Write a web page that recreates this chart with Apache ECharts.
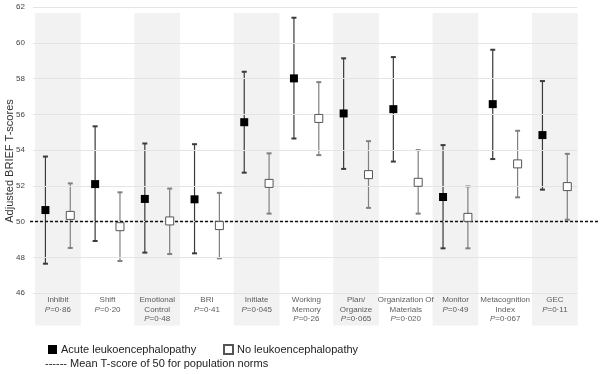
<!DOCTYPE html>
<html>
<head>
<meta charset="utf-8">
<script src="https://cdn.jsdelivr.net/npm/echarts@6/dist/echarts.min.js"></script>
<style>
  html, body { margin: 0; padding: 0; background: #fff; }
  #chart { width: 602px; height: 374px; }
</style>
</head>
<body>
<div id="chart"></div>
<script>
const categories = ['Inhibit', 'Shift', 'Emotional\nControl', 'BRI', 'Initiate', 'Working\nMemory',
    'Plan/\nOrganize', 'Organization Of\nMaterials', 'Monitor', 'Metacognition\nIndex', 'GEC'];
const pValues = ['0·86', '0·20', '0·48', '0·41', '0·045', '0·26', '0·065', '0·020', '0·49', '0·067', '0·11'];

// acute leukoencephalopathy: mean, lower and upper end of error bar
const acuteMean = [50.65, 52.1, 51.27, 51.25, 55.56, 58.01, 56.05, 56.29, 51.38, 56.57, 54.84];
const acuteLow = [47.65, 48.92, 48.27, 48.23, 52.74, 54.65, 52.95, 53.36, 48.51, 53.5, 51.79];
const acuteHigh = [53.64, 55.33, 54.37, 54.33, 58.38, 61.4, 59.13, 59.2, 54.28, 59.61, 57.86];

// no leukoencephalopathy
const noneMean = [50.35, 49.72, 50.04, 49.78, 52.14, 55.77, 52.63, 52.2, 50.24, 53.23, 51.96];
const noneLow = [48.53, 47.8, 48.19, 47.95, 50.45, 53.72, 50.77, 50.45, 48.51, 51.36, 50.11];
const noneHigh = [52.14, 51.64, 51.85, 51.61, 53.82, 57.8, 54.5, 54.0, 51.97, 55.08, 53.79];

const yTicks = [46, 48, 50, 52, 54, 56, 58, 60, 62];
const normLine = 50;

const font = 'Liberation Sans, Arial, sans-serif';
const chart = echarts.init(document.getElementById('chart'));

// error bars drawn with a custom series
const errorBars = (name, mean, low, high, color, offset) => ({
    name: name + ' bars',
    type: 'custom',
    silent: true,
    z: 3,
    data: mean.map((m, i) => [i + offset, low[i], high[i]]),
    renderItem: (params, api) => {
        const x = api.value(0);
        const lo = api.coord([x, api.value(1)]);
        const hi = api.coord([x, api.value(2)]);
        const cap = 2.5;
        const style = { stroke: color, lineWidth: 1.2 };
        return {
            type: 'group',
            children: [
                { type: 'line', shape: { x1: lo[0], y1: lo[1], x2: hi[0], y2: hi[1] }, style },
                { type: 'line', shape: { x1: lo[0] - cap, y1: lo[1], x2: lo[0] + cap, y2: lo[1] }, style: { stroke: color, lineWidth: 2 } },
                { type: 'line', shape: { x1: hi[0] - cap, y1: hi[1], x2: hi[0] + cap, y2: hi[1] }, style: { stroke: color, lineWidth: 2 } }
            ]
        };
    }
});

const bandData = [];
for (let i = 0; i < categories.length; i += 2) {
    bandData.push([{ xAxis: i + 0.04, yAxis: 44.2 }, { xAxis: i + 0.96, yAxis: 61.66 }]);
}

const gridLines = yTicks.map(v => [{ coord: [0, v] }, { coord: [10.95, v] }]);

const option = {
    animation: false,
    backgroundColor: '#fff',
    textStyle: { fontFamily: font },
    grid: { left: 30, right: 2, top: 7, bottom: 45, containLabel: false, outerBoundsMode: 'none' },
    title: {
        text: '------ Mean T-score of 50 for population norms',
        left: 45, top: 358,
        padding: 0,
        textStyle: { fontFamily: font, fontSize: 11, fontWeight: 'normal', color: '#222' }
    },
    legend: [
        {
            data: ['Acute leukoencephalopathy'],
            left: 48, top: 344, padding: 0,
            icon: 'rect', itemWidth: 9, itemHeight: 9, itemGap: 4,
            textStyle: { fontFamily: font, fontSize: 11, color: '#222', padding: [0, 0, 0, -1] }
        },
        {
            data: ['No leukoencephalopathy'],
            left: 223, top: 344, padding: 0,
            icon: 'rect', itemWidth: 9, itemHeight: 9, itemGap: 4,
            textStyle: { fontFamily: font, fontSize: 11, color: '#222', padding: [0, 0, 0, -1] }
        }
    ],
    xAxis: {
        type: 'value',
        min: -0.0604,
        max: 11.408,
        show: false
    },
    yAxis: {
        type: 'value',
        min: 44,
        max: 62,
        interval: 2,
        name: 'Adjusted BRIEF T-scores',
        nameLocation: 'middle',
        nameRotate: 90,
        nameGap: 15,
        nameMoveOverlap: false,
        nameTextStyle: { fontFamily: font, fontSize: 11, color: '#333', padding: [0, 0, 0, 14] },
        axisLine: { show: false },
        axisTick: { show: false },
        splitLine: { show: false },
        axisLabel: {
            fontFamily: font, fontSize: 8, color: '#444', margin: 5,
            formatter: v => (v === 44 ? '' : v)
        }
    },
    series: [
        {
            name: 'bands',
            type: 'scatter',
            silent: true,
            data: [],
            z: 1,
            markArea: {
                silent: true,
                itemStyle: { color: '#f2f2f2' },
                data: bandData
            },
            markLine: {
                silent: true,
                symbol: 'none',
                label: { show: false },
                lineStyle: { color: '#e4e4e4', width: 1, type: 'solid' },
                data: gridLines
            }
        },
        {
            name: 'labels',
            type: 'scatter',
            silent: true,
            z: 2,
            symbolSize: 1,
            itemStyle: { color: 'transparent' },
            data: categories.map((c, i) => [i + 0.5, 45.9]),
            label: {
                show: true,
                position: 'bottom',
                distance: 0,
                align: 'center',
                fontFamily: font,
                fontSize: 8,
                lineHeight: 9.5,
                color: '#333',
                formatter: p => categories[p.dataIndex] + '\n{p|P}=' + pValues[p.dataIndex],
                rich: {
                    p: { fontStyle: 'italic', fontFamily: font, fontSize: 8, lineHeight: 9.5, color: '#333' }
                }
            }
        },
        errorBars('Acute leukoencephalopathy', acuteMean, acuteLow, acuteHigh, '#3a3a3a', 0.25),
        errorBars('No leukoencephalopathy', noneMean, noneLow, noneHigh, '#808080', 0.75),
        {
            name: 'Acute leukoencephalopathy',
            type: 'scatter',
            symbol: 'rect',
            symbolSize: 8,
            z: 5,
            itemStyle: { color: '#000', opacity: 1 },
            data: acuteMean.map((m, i) => [i + 0.25, m])
        },
        {
            name: 'No leukoencephalopathy',
            type: 'scatter',
            symbol: 'rect',
            symbolSize: 8,
            z: 5,
            itemStyle: { color: '#fff', borderColor: '#555', borderWidth: 1, opacity: 1 },
            data: noneMean.map((m, i) => [i + 0.75, m]),
            markLine: {
                silent: true,
                symbol: 'none',
                label: { show: false },
                lineStyle: { color: '#111', width: 1.3, type: [3, 2] },
                data: [[{ coord: [-0.0604, normLine] }, { coord: [11.408, normLine] }]]
            }
        }
    ]
};

chart.setOption(option);
</script>
</body>
</html>
